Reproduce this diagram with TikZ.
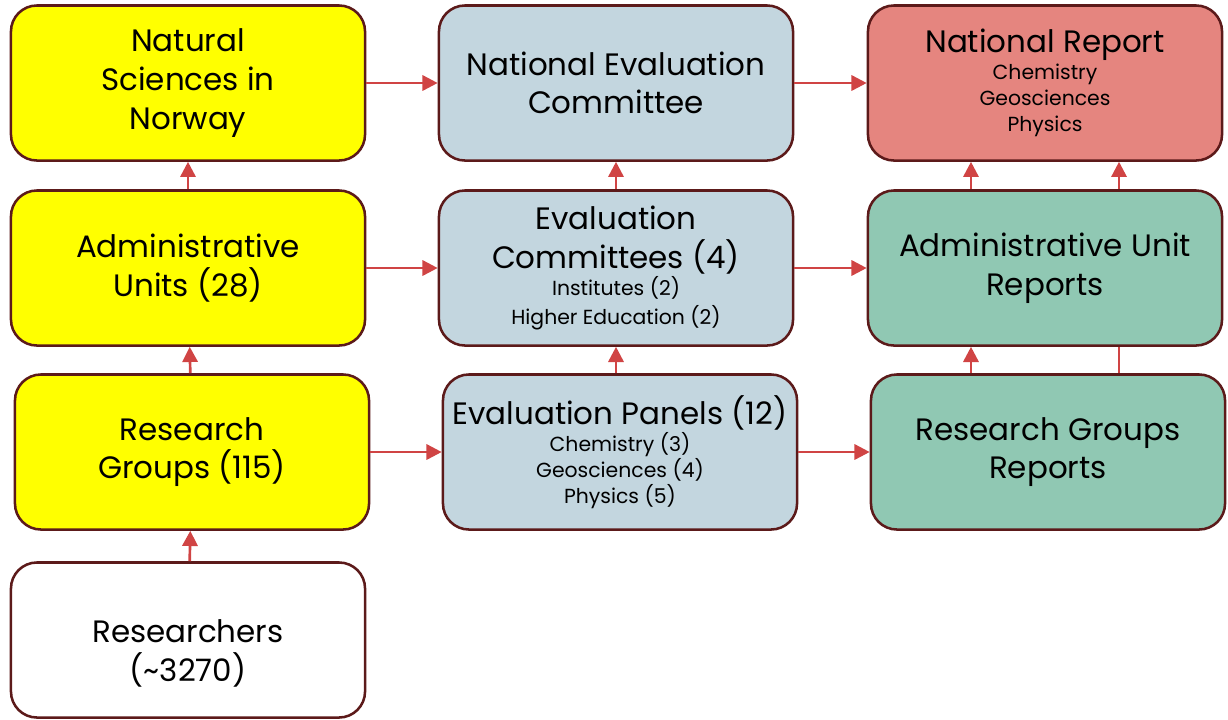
\documentclass[tikz,border=0pt]{standalone}
\usepackage{fontspec}
\setmainfont{Poppins}
\usepackage{xcolor}
\usetikzlibrary{arrows.meta,calc}
\definecolor{rim}{HTML}{5C1A1A}
\definecolor{arred}{HTML}{D04444}
\definecolor{yel}{HTML}{FFFF00}
\definecolor{slate}{HTML}{C3D6DF}
\definecolor{rose}{HTML}{E5857F}
\definecolor{mint}{HTML}{90C8B3}
\newcommand{\sm}{\fontsize{14.5}{18.5}\selectfont}

\begin{document}
\begin{tikzpicture}[
  x=0.025cm, y=-0.025cm,
  font=\fontsize{22}{27.5}\selectfont,
  b/.style={draw=rim, line width=1.8pt, rounded corners=0.65cm, align=center, inner sep=2pt, minimum width=8.85cm, minimum height=3.875cm},
  arr/.style={draw=arred, line width=1.9pt, -{Triangle[length=3.8mm,width=3.8mm]}},
  ln/.style={draw=arred, line width=1.9pt}]

\useasboundingbox (0,0) rectangle (1228,719);

\node[b, fill=yel] (ns) at (188,83) {Natural\\Sciences in\\Norway};
\node[b, fill=yel] (au) at (188,268) {Administrative\\Units (28)};
\node[b, fill=yel] (rg) at (192,452) {Research\\Groups (115)};
\node[b, fill=white] (rs) at (188,640) {\rule{0pt}{1.25cm}Researchers\\(\char`\~3270)};

\node[b, fill=slate] (nec) at (616,83) {National Evaluation\\Committee};
\node[b, fill=slate] (ec) at (616,268) {Evaluation\\Committees (4)\\[-8pt]\sm Institutes (2)\\[-7pt]\sm Higher Education (2)};
\node[b, fill=slate] (ep) at (620,452) {Evaluation Panels (12)\\[-8.5pt]\sm Chemistry (3)\\[-9pt]\sm Geosciences (4)\\[-9pt]\sm Physics (5)};

\node[b, fill=rose] (nr) at (1045,83) {National Report\\[-8.5pt]\sm Chemistry\\[-9pt]\sm Geosciences\\[-9pt]\sm Physics};
\node[b, fill=mint] (adu) at (1045,268) {Administrative Unit\\Reports};
\node[b, fill=mint] (rgr) at (1048,452) {Research Groups\\Reports};

\draw[arr] (rs) -- (rg);
\draw[arr] (rg) -- (au);
\draw[arr] (au) -- (ns);
\draw[arr] (ns) -- (nec);
\draw[arr] (au) -- (ec);
\draw[arr] (rg) -- (ep);
\draw[arr] (ep.north -| ec.south) -- (ec.south);
\draw[arr] (ec) -- (nec);
\draw[arr] (nec) -- (nr);
\draw[arr] (ec) -- (adu);
\draw[arr] (ep) -- (rgr);
\draw[arr] ([xshift=-1.85cm]adu.south |- rgr.north) -- ([xshift=-1.85cm]adu.south);
\draw[ln] ([xshift=1.85cm]adu.south |- rgr.north) -- ([xshift=1.85cm]adu.south);
\draw[arr] ([xshift=-1.85cm]adu.north) -- ([xshift=-1.85cm]adu.north |- nr.south);
\draw[arr] ([xshift=1.85cm]adu.north) -- ([xshift=1.85cm]adu.north |- nr.south);
\end{tikzpicture}
\end{document}
